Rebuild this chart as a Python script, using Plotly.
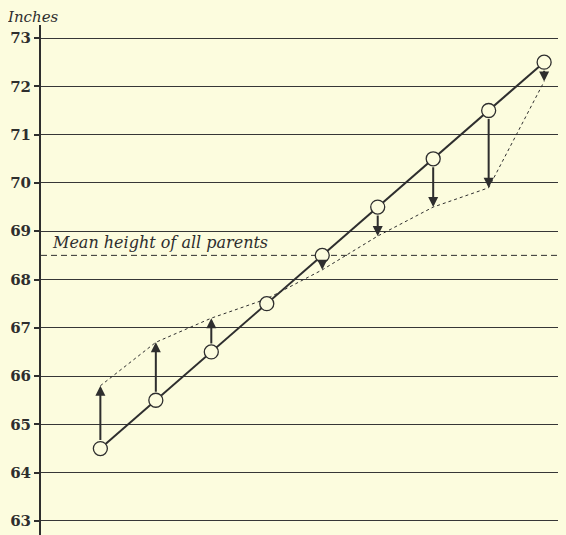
import plotly.graph_objects as go

parents = [64.5, 65.5, 66.5, 67.5, 68.5, 69.5, 70.5, 71.5, 72.5]
children = [65.8, 66.7, 67.2, 67.6, 68.2, 68.9, 69.5, 69.9, 72.1]
y_ticks = [63, 64, 65, 66, 67, 68, 69, 70, 71, 72, 73]
mean_parent = 68.5

BG = "#fcfcde"
INK = "#2e2e2e"

fig = go.Figure()

# mean height dashed line
fig.add_trace(go.Scatter(x=[63.43, 72.75], y=[mean_parent, mean_parent], mode="lines",
                         line=dict(color=INK, width=1, dash="6px,4px"), hoverinfo="skip"))

# children dotted line
fig.add_trace(go.Scatter(x=parents, y=children, mode="lines",
                         line=dict(color=INK, width=1, dash="dot"), hoverinfo="skip"))

# parents diagonal with circles
fig.add_trace(go.Scatter(x=parents, y=parents, mode="lines+markers",
                         line=dict(color=INK, width=2),
                         marker=dict(symbol="circle", size=14, color=BG,
                                     line=dict(color=INK, width=1.3)),
                         hoverinfo="skip"))

annotations = []
for p, c in zip(parents, children):
    if abs(c - p) < 0.2:
        continue
    annotations.append(dict(x=p, y=c, ax=p, ay=p, xref="x", yref="y", axref="x", ayref="y",
                            showarrow=True, arrowhead=2, arrowsize=1.0, arrowwidth=2,
                            arrowcolor=INK, startstandoff=7, text=""))

annotations.append(dict(x=-0.0164, y=1.0157, xref="paper", yref="paper", xanchor="center",
                        yanchor="middle", text="<i>Inches</i>", showarrow=False,
                        font=dict(family="DejaVu Serif", size=15, color=INK)))
annotations.append(dict(x=63.6, y=68.76, xref="x", yref="y", xanchor="left",
                        text="<i>Mean height of all parents</i>", showarrow=False,
                        font=dict(family="DejaVu Serif", size=16, color=INK)))

fig.update_layout(
    width=558, height=527,
    margin=dict(l=33, r=8, t=17, b=0),
    paper_bgcolor=BG, plot_bgcolor=BG,
    showlegend=False,
    annotations=annotations,
    xaxis=dict(range=[63.43, 72.75], visible=False, showgrid=False, zeroline=False,
               automargin=False),
    yaxis=dict(range=[62.71, 73.27], tickvals=y_ticks, ticktext=[str(t) for t in y_ticks],
               automargin=False,
               showgrid=True, gridcolor="#363636", gridwidth=1.4, zeroline=False,
               showline=True, linecolor=INK, linewidth=2,
               ticks="outside", ticklen=5, tickcolor=INK, tickwidth=1.5,
               tickfont=dict(family="DejaVu Serif", size=15, color=INK, weight="bold")),
)

fig.write_html("out.html", post_script="document.body.style.backgroundColor='%s';" % BG)
